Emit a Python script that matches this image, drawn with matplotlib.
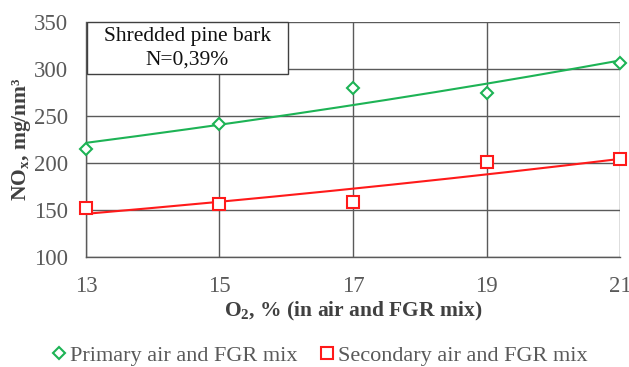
import numpy as np
import matplotlib
matplotlib.use("Agg")
import matplotlib.pyplot as plt
from matplotlib.patches import Rectangle

plt.rcParams['font.family'] = ['Liberation Serif', 'DejaVu Serif']
plt.rcParams['mathtext.fontset'] = 'custom'
plt.rcParams['mathtext.rm'] = 'Liberation Serif'
plt.rcParams['mathtext.bf'] = 'Liberation Serif:bold'
plt.rcParams['mathtext.it'] = 'Liberation Serif:italic'

o2 = [13, 15, 17, 19, 21]
primary = [215, 242, 280, 275, 306]
secondary = [152, 156, 158, 201, 204]
xticks = [13, 15, 17, 19, 21]
yticks = [100, 150, 200, 250, 300, 350]

green = '#1DB355'
red = '#FF1A1A'
grid_c = '#5a5a5a'
tick_c = '#595959'

fig = plt.figure(figsize=(6.29, 3.67), dpi=100)
ax = fig.add_axes([0.1367, 0.2997, 0.849, 0.6403])

x = np.array(o2, float)
xx = np.linspace(13, 21, 200)
for y, c in [(primary, green), (secondary, red)]:
    b, a = np.polyfit(x, np.log(np.array(y, float)), 1)
    ax.plot(xx, np.exp(a + b * xx), color=c, lw=1.5, zorder=3)

ax.plot(o2, primary, linestyle='none', marker='D', ms=6, mfc='white', mec=green, mew=1.5,
        label='Primary air and FGR mix', zorder=4, clip_on=False)
ax.plot(o2, secondary, linestyle='none', marker='s', ms=8.5, mfc='white', mec=red, mew=1.5,
        label='Secondary air and FGR mix', zorder=4, clip_on=False)

ax.set_xlim(13, 21)
ax.set_ylim(100, 350)
ax.set_xticks(xticks)
ax.set_yticks(yticks)
ax.tick_params(axis='both', length=0, labelsize=16.5, colors=tick_c)
ax.tick_params(axis='y', pad=13)
ax.tick_params(axis='x', pad=14)
ax.grid(True, color=grid_c, lw=1)
ax.set_axisbelow(True)
for s in ['top', 'right']:
    ax.spines[s].set_visible(False)
for s in ['left', 'bottom']:
    ax.spines[s].set_color(grid_c)
    ax.spines[s].set_linewidth(1)

ax.set_xlabel('O$_\\mathbf{2}$, % (in air and FGR mix)', fontsize=15.5, fontweight='bold',
              color='#404040', labelpad=2)
ax.set_ylabel('NO$_\\mathbf{x}$, mg/nm³', fontsize=15.5, fontweight='bold',
              color='#404040')
ax.yaxis.set_label_coords(-0.1, 0.5)

box_right = 0.376
box_bottom = 0.779
ax.add_patch(Rectangle((0.002, box_bottom), box_right, 1 - box_bottom, transform=ax.transAxes,
                       fc='white', ec='#404040', lw=1, zorder=5, clip_on=False))
ax.text(0.002 + box_right / 2, (1 + box_bottom) / 2, 'Shredded pine bark\nN=0,39%',
        transform=ax.transAxes, ha='center', va='center', fontsize=15.5,
        linespacing=1.3, zorder=6, color='#111111')

leg = fig.legend(loc='lower center', bbox_to_anchor=(0.506, -0.033), ncol=2, frameon=False,
                 fontsize=16, handletextpad=0.05, columnspacing=0.85, handlelength=0.9,
                 markerscale=0.95, labelcolor='#595959', borderaxespad=0.2)

fig.savefig('out.png', dpi=100)
